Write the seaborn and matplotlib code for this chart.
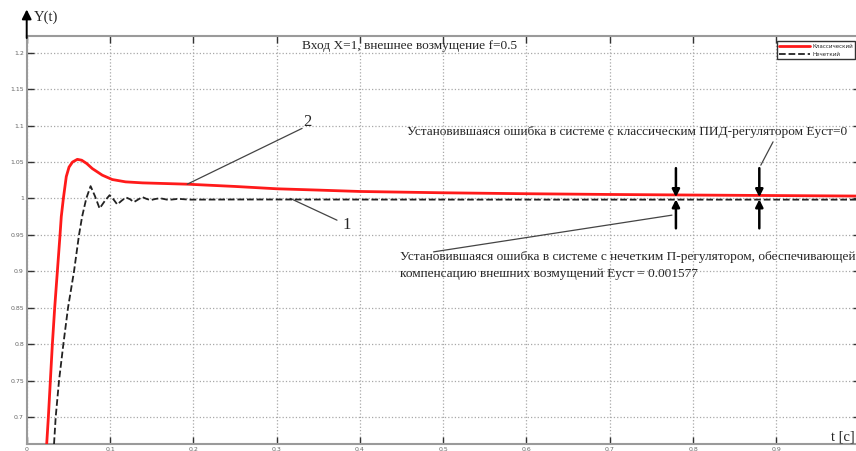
import matplotlib
matplotlib.use("Agg")
import matplotlib.pyplot as plt
import pandas as pd
import seaborn as sns

# ---------------- data ----------------
t_classic = [0.024, 0.026, 0.0284, 0.0308, 0.0336, 0.0368, 0.040, 0.0415, 0.044,
             0.0475, 0.0508, 0.055, 0.0608, 0.066, 0.072, 0.0788, 0.0907, 0.1027,
             0.1187, 0.139, 0.163, 0.193, 0.25, 0.30, 0.35, 0.40, 0.50, 0.60,
             0.70, 0.80, 0.90, 1.00]
y_classic = [0.663, 0.700, 0.750, 0.800, 0.850, 0.900, 0.950, 0.975, 1.000,
             1.030, 1.043, 1.050, 1.0537, 1.0525, 1.048, 1.041, 1.032, 1.026,
             1.0228, 1.0214, 1.0206, 1.0196, 1.0165, 1.0133, 1.0115, 1.0096,
             1.0078, 1.0065, 1.0055, 1.0047, 1.0040, 1.0033]

t_fuzzy = [0.0328, 0.0348, 0.0388, 0.044, 0.0496, 0.0568, 0.0628, 0.0665, 0.0715,
           0.0767, 0.082, 0.0875, 0.094, 0.0995, 0.104, 0.1087, 0.114, 0.119,
           0.124, 0.1287, 0.1337, 0.1387, 0.1437, 0.1487, 0.154, 0.160, 0.170,
           0.182, 0.195, 0.25, 0.40, 0.60, 0.80, 1.00]
y_fuzzy = [0.663, 0.700, 0.750, 0.800, 0.850, 0.900, 0.950, 0.975, 1.000,
           1.0169, 1.003, 0.9863, 0.997, 1.0045, 0.999, 0.9918, 0.997, 1.0015,
           0.999, 0.995, 0.9985, 1.002, 0.9995, 0.9977, 0.9992, 1.0004, 0.9980,
           0.9995, 0.9984, 0.9986, 0.9985, 0.9984, 0.9984, 0.9984]

series_labels = ["Классический", "Нечеткий"]

x_ticks = [0.0, 0.1, 0.2, 0.3, 0.4, 0.5, 0.6, 0.7, 0.8, 0.9]
x_tick_labels = ["0", "0.1", "0.2", "0.3", "0.4", "0.5", "0.6", "0.7", "0.8", "0.9"]
y_ticks = [0.70, 0.75, 0.80, 0.85, 0.90, 0.95, 1.00, 1.05, 1.10, 1.15, 1.20]
y_tick_labels = ["0.7", "0.75", "0.8", "0.85", "0.9", "0.95", "1", "1.05", "1.1", "1.15", "1.2"]

title_text = "Вход X=1, внешнее возмущение f=0.5"
note_classic = "Установившаяся ошибка в системе с классическим ПИД-регулятором Eуст=0"
note_fuzzy_1 = "Установившаяся ошибка в системе с нечетким П-регулятором, обеспечивающей"
note_fuzzy_2 = "компенсацию внешних возмущений Eуст = 0.001577"

# ---------------- figure ----------------
sns.set_style("white")
plt.rcParams["font.family"] = ["DejaVu Sans"]
SERIF = ["Liberation Serif", "DejaVu Serif"]

fig = plt.figure(figsize=(8.56, 4.51), dpi=100)
ax = fig.add_axes([0.0312, 0.0155, 0.9731, 0.9047])

df_c = pd.DataFrame({"t": t_classic, "y": y_classic})
df_f = pd.DataFrame({"t": t_fuzzy, "y": y_fuzzy})

sns.lineplot(data=df_c, x="t", y="y", ax=ax, color="#ff1a1a", lw=2.0,
             label=series_labels[0], sort=False, estimator=None, zorder=3)
sns.lineplot(data=df_f, x="t", y="y", ax=ax, color="#222222", lw=1.3,
             linestyle="--", label=series_labels[1], sort=False, estimator=None, zorder=4)

ax.set_xlim(0.0, 1.0)
ax.set_ylim(0.663, 1.223)
ax.set_xlabel("")
ax.set_ylabel("")
ax.set_xticks(x_ticks)
ax.set_xticklabels(x_tick_labels)
ax.set_yticks(y_ticks)
ax.set_yticklabels(y_tick_labels)
ax.tick_params(axis="both", direction="in", length=5, width=1.0, color="#333333",
               labelsize=4.5, labelcolor="#666666", pad=2,
               top=True, right=True, bottom=True, left=True)
ax.grid(True, linestyle=":", color="#a8a8a8", lw=0.9)
for sp in ax.spines.values():
    sp.set_color("#9a9a9a")
    sp.set_linewidth(1.5)

leg = ax.legend(loc="upper left", bbox_to_anchor=(0.9007, 0.987), fontsize=4,
                frameon=True, fancybox=False, edgecolor="#333333",
                handlelength=5.5, borderpad=0.4, labelspacing=0.6,
                handletextpad=0.5, borderaxespad=0)
leg.get_frame().set_linewidth(1.0)
leg.get_frame().set_facecolor("white")
leg.get_frame().set_alpha(1)

# axis arrow and labels
ax.annotate("", xy=(0, 1.065), xytext=(0, 0.995), xycoords="axes fraction",
            textcoords="axes fraction",
            arrowprops=dict(arrowstyle="-|>", color="black", lw=1.4,
                            mutation_scale=14, shrinkA=0, shrinkB=0),
            annotation_clip=False)
ax.text(0.008, 1.045, "Y(t)", transform=ax.transAxes, fontsize=10.5,
        family=SERIF, va="center", ha="left", clip_on=False)
ax.text(0.965, 0.017, "t [c]", transform=ax.transAxes, fontsize=10.5,
        family=SERIF, va="center", ha="left", clip_on=False)

ax.text(0.3306, 1.2096, title_text, fontsize=9.6, family=SERIF,
        va="center", ha="left")

# notes
ax.text(0.4565, 1.0915, note_classic, fontsize=9.6, family=SERIF,
        va="center", ha="left", clip_on=False)
ax.text(0.4484, 0.9198, note_fuzzy_1, fontsize=9.6, family=SERIF,
        va="center", ha="left", clip_on=False)
ax.text(0.4484, 0.8970, note_fuzzy_2, fontsize=9.6, family=SERIF,
        va="center", ha="left", clip_on=False)

# numbered labels and leader lines
line_kw = dict(arrowstyle="-", color="#444444", lw=0.9, shrinkA=0, shrinkB=0)
ax.annotate("", xy=(0.1927, 1.0196), xytext=(0.3306, 1.0962), arrowprops=line_kw)
ax.text(0.3366, 1.1052, "2", fontsize=12, family=SERIF, va="center", ha="center")
ax.annotate("", xy=(0.3165, 1.0), xytext=(0.3725, 0.9702), arrowprops=line_kw)
ax.text(0.3845, 0.9634, "1", fontsize=12, family=SERIF, va="center", ha="center")
ax.annotate("", xy=(0.8813, 1.0457), xytext=(0.896, 1.0777), arrowprops=line_kw)
ax.annotate("", xy=(0.4884, 0.9267), xytext=(0.7746, 0.9771), arrowprops=line_kw)

# error indicator arrows
arr_kw = dict(arrowstyle="-|>", color="black", lw=1.8, mutation_scale=11,
              shrinkA=0, shrinkB=0)
for tx in (0.7794, 0.8795):
    ax.annotate("", xy=(tx, 1.0018), xytext=(tx, 1.0416), arrowprops=arr_kw, zorder=6)
    ax.annotate("", xy=(tx, 0.9988), xytext=(tx, 0.9590), arrowprops=arr_kw, zorder=6)

fig.savefig("out.png", dpi=100)
